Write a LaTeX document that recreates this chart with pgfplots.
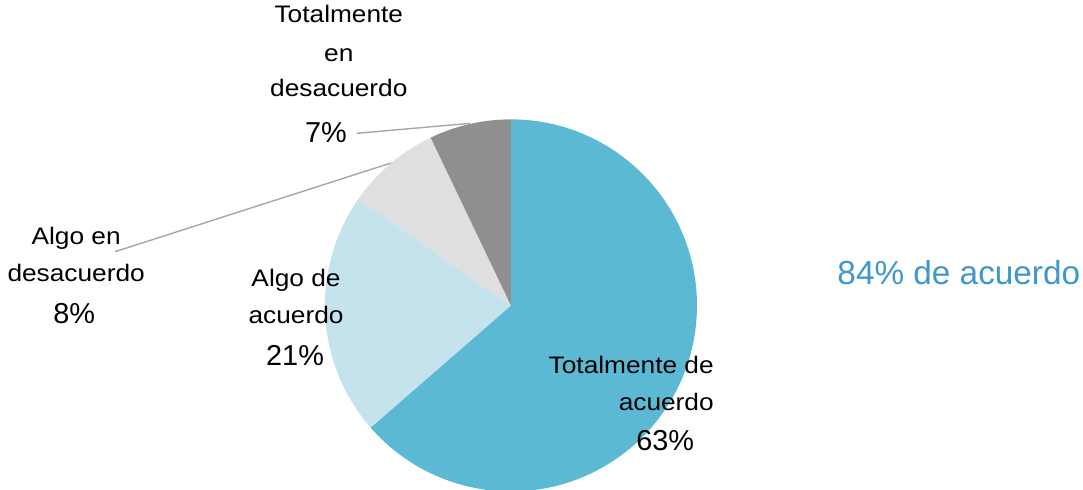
\documentclass[border=0pt]{standalone}
\usepackage{pgfplots}
\pgfplotsset{compat=1.18}
\usepackage{pgfplotstable}
\usepackage{fontspec}
\setmainfont{Liberation Sans}
\newfontfamily\catfont{Liberation Sans}[FakeStretch=1.1]

\definecolor{pc0}{HTML}{5BB9D3}
\definecolor{pc1}{HTML}{C5E3ED}
\definecolor{pc2}{HTML}{DFDFDF}
\definecolor{pc3}{HTML}{8F8F8F}
\definecolor{leader}{HTML}{A6A6A6}
\definecolor{sumblue}{HTML}{4197C9}

% shares (%), clockwise from 12 o'clock
\pgfplotstableread{
value
63.6
21.1
8.2
7.1
}\piedata

\begin{document}
% start / end angle of every slice
\def\cum{0}
\pgfplotsforeachungrouped \i in {0,...,3}{%
  \pgfplotstablegetelem{\i}{value}\of\piedata
  \pgfmathsetmacro\st{90-\cum*3.6}%
  \pgfmathsetmacro\cum{\cum+\pgfplotsretval}%
  \pgfmathsetmacro\en{90-\cum*3.6}%
  \expandafter\xdef\csname st\i\endcsname{\st}%
  \expandafter\xdef\csname en\i\endcsname{\en}%
}
\begin{tikzpicture}
\begin{axis}[
  name=pie,
  scale only axis, width=1083pt, height=492pt,
  xmin=0, xmax=1083, ymin=0, ymax=492,
  hide axis,
]
\pgfplotsinvokeforeach{0,...,3}{
  \fill[pc#1] (axis cs:508,185) -- ++(\csname st#1\endcsname:187pt)
    arc[start angle=\csname st#1\endcsname, end angle=\csname en#1\endcsname, radius=187pt] -- cycle;
}
% leader lines
\draw[leader, line width=1.4pt] (axis cs:353,358) -- (axis cs:467,368);
\draw[leader, line width=1.4pt] (axis cs:110,239) -- (axis cs:387,328);
% category labels
\begin{scope}[every node/.style={inner sep=0pt, anchor=base, font=\catfont\fontsize{24}{28}\selectfont}]
\node at (axis cs:335,469) {Totalmente};
\node at (axis cs:335,430) {en};
\node at (axis cs:335,395) {desacuerdo};
\node at (axis cs:71,246) {Algo en};
\node at (axis cs:71,209) {desacuerdo};
\node at (axis cs:292,204) {Algo de};
\node at (axis cs:292,167) {acuerdo};
\node[anchor=base east] at (axis cs:712,117) {Totalmente de};
\node[anchor=base east] at (axis cs:712,79) {acuerdo};
\end{scope}
% percentages
\begin{scope}[every node/.style={inner sep=0pt, anchor=base, font=\fontsize{29}{34}\selectfont}]
\node at (axis cs:322,349) {7\%};
\node at (axis cs:69,167) {8\%};
\node at (axis cs:291,125) {21\%};
\node at (axis cs:663,39) {63\%};
\end{scope}
\node[inner sep=0pt, anchor=base west, text=sumblue, font=\fontsize{33.5}{40}\selectfont] at (axis cs:836,206) {84\% de acuerdo};
\end{axis}
\pgfresetboundingbox
\path (pie.south west) rectangle (pie.north east);
\end{tikzpicture}
\end{document}
